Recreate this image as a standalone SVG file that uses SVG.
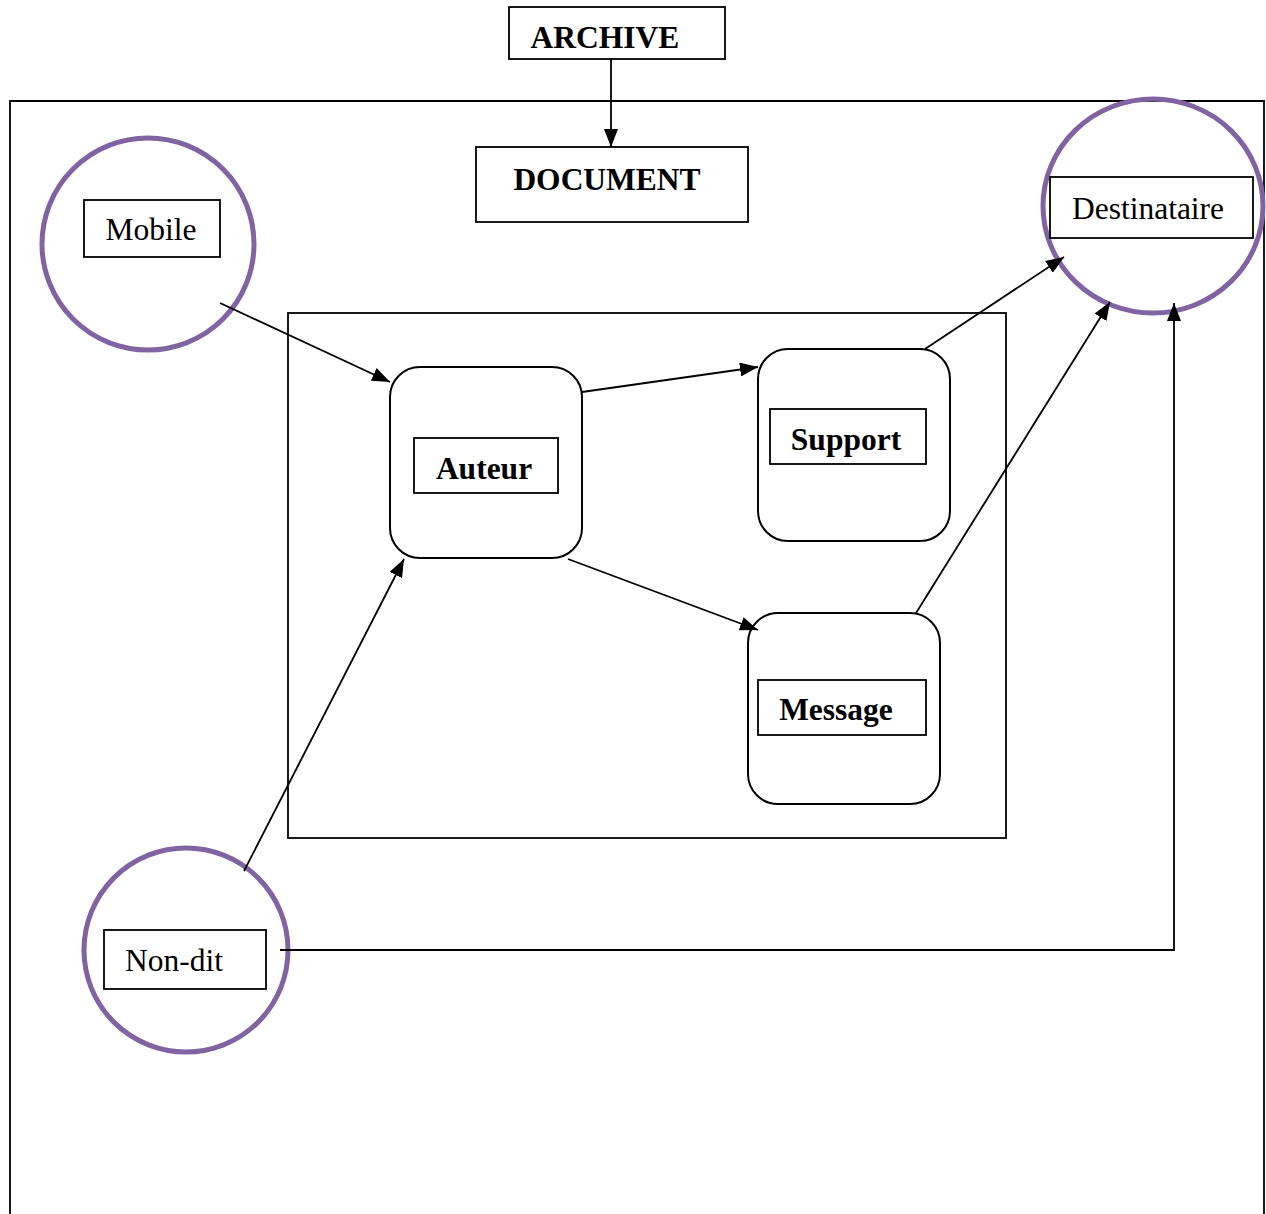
<svg xmlns="http://www.w3.org/2000/svg" width="1266" height="1214" viewBox="0 0 1266 1214">
<style>
.frame{fill:none;stroke:#000;stroke-width:1.8}
.box{fill:#fff;stroke:#000;stroke-width:1.8}
.rbox{fill:#fff;stroke:#000;stroke-width:2}
.ring{fill:none;stroke:#8064A2;stroke-width:5}
.conn{fill:none;stroke:#000;stroke-width:1.8}
.t{font-family:"Liberation Serif","Times New Roman",serif;font-size:31.5px;fill:#000}
.b{font-weight:bold}
</style>
<defs>
<marker id="ah" markerUnits="userSpaceOnUse" markerWidth="20" markerHeight="14" viewBox="0 0 20 14" refX="18" refY="7" orient="auto">
<path d="M0,0 L18,7 L0,14 Z" fill="#000"/>
</marker>
</defs>
<rect width="1266" height="1214" fill="#fff"/>
<path class="frame" d="M10,1214 L10,101 L1264,101 L1264,1214"/>
<rect class="frame" x="288" y="313" width="718" height="525"/>
<g id="archive">
<rect class="box" x="509" y="7" width="216" height="52"/>
<text class="t b" x="605" y="48" text-anchor="middle">ARCHIVE</text>
</g>
<g id="document">
<rect class="box" x="476" y="147" width="272" height="75"/>
<text class="t b" x="607" y="190" text-anchor="middle">DOCUMENT</text>
</g>
<g id="mobile">
<circle class="ring" cx="148" cy="244" r="106"/>
<rect class="box" x="84" y="200" width="136" height="57"/>
<text class="t" x="151" y="240" text-anchor="middle">Mobile</text>
</g>
<g id="destinataire">
<ellipse class="ring" cx="1153" cy="206" rx="110" ry="107"/>
<rect class="box" x="1050" y="177" width="203" height="61"/>
<text class="t" x="1148" y="219" text-anchor="middle">Destinataire</text>
</g>
<g id="auteur">
<rect class="rbox" x="390" y="367" width="192" height="191" rx="30"/>
<rect class="box" x="414" y="438" width="144" height="55"/>
<text class="t b" x="484" y="479" text-anchor="middle">Auteur</text>
</g>
<g id="support">
<rect class="rbox" x="758" y="349" width="192" height="192" rx="30"/>
<rect class="box" x="770" y="409" width="156" height="55"/>
<text class="t b" x="846" y="450" text-anchor="middle">Support</text>
</g>
<g id="message">
<rect class="rbox" x="748" y="613" width="192" height="191" rx="30"/>
<rect class="box" x="758" y="680" width="168" height="55"/>
<text class="t b" x="836" y="720" text-anchor="middle">Message</text>
</g>
<g id="nondit">
<circle class="ring" cx="186" cy="950" r="102"/>
<rect class="box" x="104" y="930" width="162" height="59"/>
<text class="t" x="174" y="971" text-anchor="middle">Non-dit</text>
</g>
<g id="connectors">
<line class="conn" x1="611" y1="59" x2="611" y2="147" marker-end="url(#ah)"/>
<line class="conn" x1="220" y1="303" x2="390" y2="382" marker-end="url(#ah)"/>
<line class="conn" x1="582" y1="392" x2="758" y2="367" marker-end="url(#ah)"/>
<line class="conn" x1="568" y1="559" x2="758" y2="630" marker-end="url(#ah)"/>
<line class="conn" x1="244" y1="871" x2="404" y2="559" marker-end="url(#ah)"/>
<line class="conn" x1="925" y1="349" x2="1064" y2="257" marker-end="url(#ah)"/>
<line class="conn" x1="916" y1="613" x2="1110" y2="302" marker-end="url(#ah)"/>
<polyline class="conn" points="280,950 1174,950 1174,303" marker-end="url(#ah)"/>
</g>
</svg>
